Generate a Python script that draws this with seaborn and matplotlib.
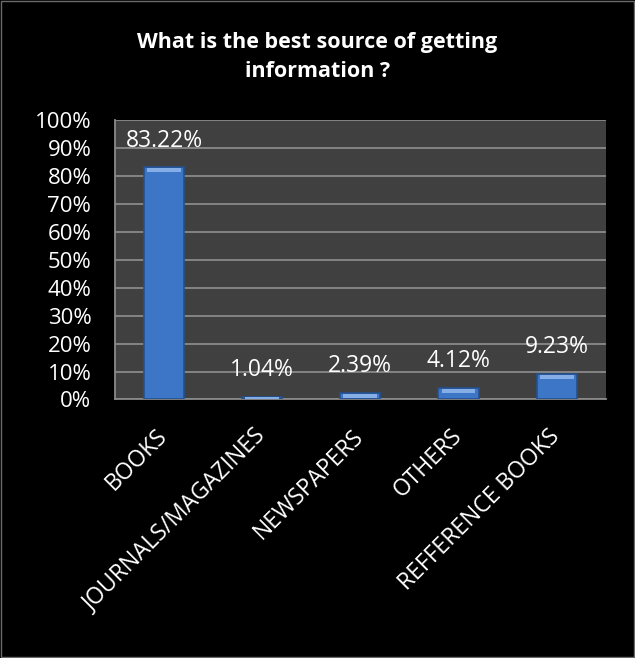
import numpy as np
import pandas as pd
import matplotlib
matplotlib.use("Agg")
import matplotlib.pyplot as plt
import seaborn as sns
from matplotlib.ticker import FuncFormatter

categories = ["BOOKS", "JOURNALS/MAGAZINES", "NEWSPAPERS", "OTHERS", "REFFERENCE BOOKS"]
percent = [83.22, 1.04, 2.39, 4.12, 9.23]
title = "What is the best source of getting\ninformation ?"

df = pd.DataFrame({"source": categories, "pct": percent})

sns.set_theme(style="dark")
plt.rcParams["font.family"] = ["Open Sans", "DejaVu Sans"]

fig = plt.figure(figsize=(6.35, 6.58), dpi=100, facecolor="black")
ax = fig.add_axes([0.181, 0.393, 0.773, 0.424])
ax.set_facecolor("#404040")

sns.barplot(data=df, x="source", y="pct", color="#3d76c6", width=0.41,
            saturation=1, edgecolor="#24508f", linewidth=1.2, ax=ax, zorder=3)

# lighter bevel on top of each bar
for p in ax.patches:
    h = p.get_height()
    band = min(h, 1.8)
    ax.add_patch(plt.Rectangle((p.get_x() + p.get_width() * 0.08, h - band),
                               p.get_width() * 0.84, band * 0.75,
                               facecolor="#86aee6", edgecolor="none", zorder=4))

for x, v in enumerate(percent):
    ax.text(x, v + 9.5, f"{v:.2f}%", ha="center", va="center",
            color="white", fontsize=16.5, zorder=5)

ax.set_ylim(0, 100)
ax.set_yticks(np.arange(0, 101, 10))
ax.yaxis.set_major_formatter(FuncFormatter(lambda v, _: f"{v:.0f}%"))
ax.grid(axis="y", color="#8a8a8a", linewidth=1.3, zorder=0)
ax.grid(axis="x", visible=False)
ax.set_axisbelow(True)
ax.set_xlabel("")
ax.set_ylabel("")
ax.tick_params(axis="y", colors="white", labelsize=16, length=0, pad=17)
ax.tick_params(axis="x", colors="white", labelsize=16.5, length=0, pad=24)
plt.setp(ax.get_xticklabels(), rotation=45, ha="right", va="center", rotation_mode="anchor")
for lbl in ax.get_yticklabels():
    lbl.set_color("white")
for lbl in ax.get_xticklabels():
    lbl.set_color("white")

for side in ["top", "right"]:
    ax.spines[side].set_visible(False)
for side in ["left", "bottom"]:
    ax.spines[side].set_visible(True)
    ax.spines[side].set_color("#8a8a8a")
    ax.spines[side].set_linewidth(1.3)

fig.text(0.5, 0.914, title, ha="center", va="center", color="white",
         fontsize=15.5, fontweight="bold", linespacing=1.5)

fig.patches.append(plt.Rectangle((0.001, 0.001), 0.998, 0.998, transform=fig.transFigure,
                                 fill=False, edgecolor="#6a6a6a", linewidth=1))

fig.savefig("out.png", dpi=100, facecolor="black")
